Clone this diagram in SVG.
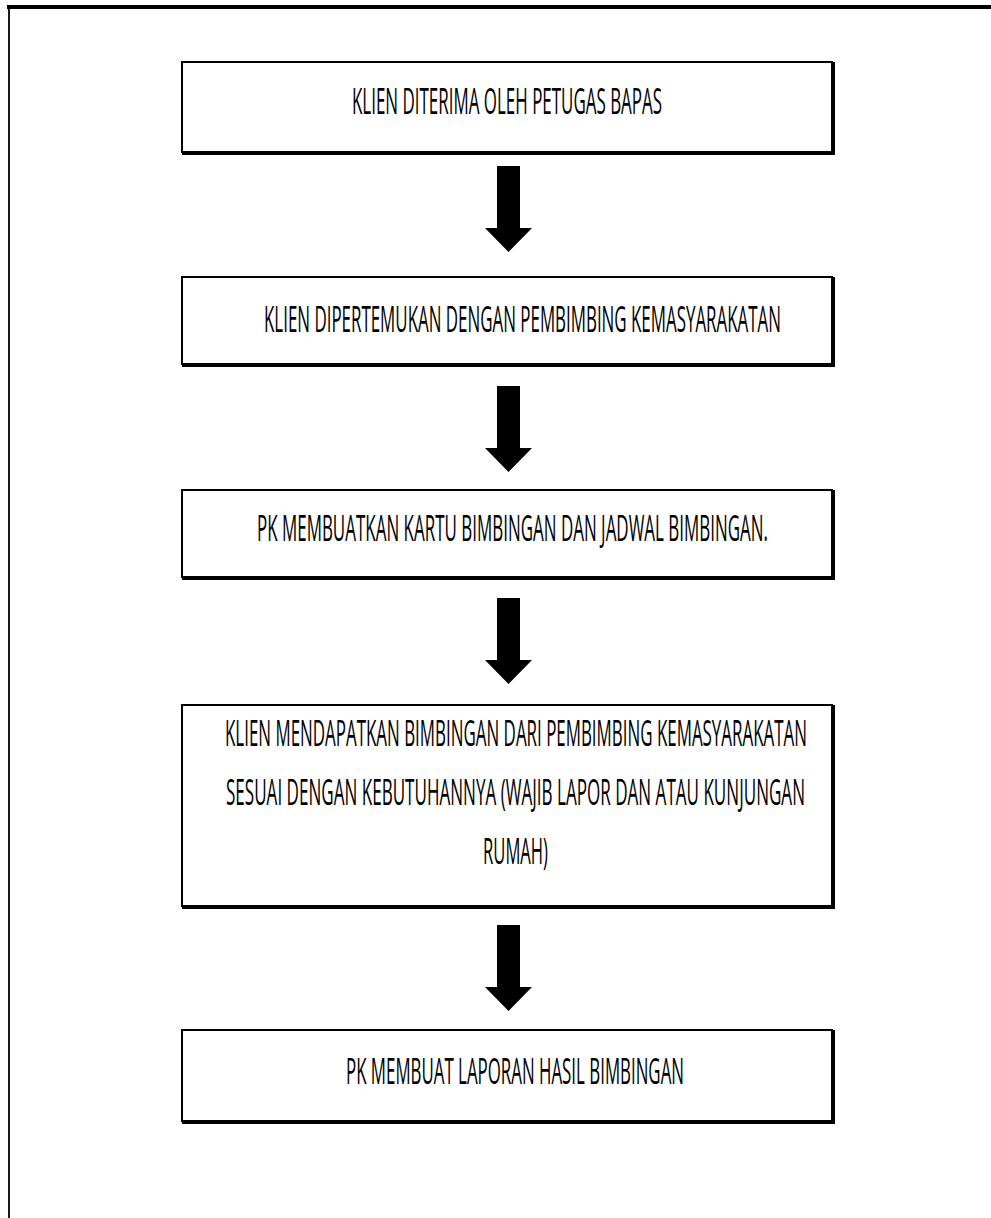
<svg xmlns="http://www.w3.org/2000/svg" xmlns:xlink="http://www.w3.org/1999/xlink" width="991" height="1218" viewBox="0 0 991 1218">
  <style>
    .box { fill: #ffffff; stroke: #000000; stroke-width: 2; }
    .shadow { fill: none; stroke: #000000; stroke-width: 2; }
    .label { font-family: "Open Sans", "Liberation Sans", sans-serif; font-size: 36px; fill: #000000; }
    .arrow { fill: #000000; }
  </style>
  <defs>
    <path id="arrowShape" d="M -11.5,0 H 11.5 V 62 H 23.5 L 0,86 L -23.5,62 H -11.5 Z"/>
  </defs>
  <rect x="0" y="0" width="991" height="1218" fill="#ffffff"/>
  <g id="frame">
    <line x1="7" y1="7" x2="991" y2="7" stroke="#000" stroke-width="4"/>
    <line x1="9" y1="5" x2="9" y2="1218" stroke="#000" stroke-width="1.8"/>
  </g>
  <g id="node1">
    <rect class="box" x="182" y="62" width="650" height="90"/>
    <polyline class="shadow" points="182,154 834,154 834,62"/>
    <text class="label" transform="translate(352,114) scale(0.5,1)" textLength="620" lengthAdjust="spacingAndGlyphs">KLIEN DITERIMA OLEH PETUGAS BAPAS</text>
  </g>
  <g id="node2">
    <rect class="box" x="182" y="277" width="650" height="87"/>
    <polyline class="shadow" points="182,366 834,366 834,277"/>
    <text class="label" transform="translate(264,332) scale(0.5,1)" textLength="1034" lengthAdjust="spacingAndGlyphs">KLIEN DIPERTEMUKAN DENGAN PEMBIMBING KEMASYARAKATAN</text>
  </g>
  <g id="node3">
    <rect class="box" x="182" y="490" width="650" height="87"/>
    <polyline class="shadow" points="182,579 834,579 834,490"/>
    <text class="label" transform="translate(257,541) scale(0.5,1)" textLength="1022" lengthAdjust="spacingAndGlyphs">PK MEMBUATKAN KARTU BIMBINGAN DAN JADWAL BIMBINGAN.</text>
  </g>
  <g id="node4">
    <rect class="box" x="182" y="705" width="650" height="201"/>
    <polyline class="shadow" points="182,908 834,908 834,705"/>
    <text class="label" transform="translate(225,746) scale(0.5,1)" textLength="1164" lengthAdjust="spacingAndGlyphs">KLIEN MENDAPATKAN BIMBINGAN DARI PEMBIMBING KEMASYARAKATAN</text>
    <text class="label" transform="translate(226,805) scale(0.5,1)" textLength="1158" lengthAdjust="spacingAndGlyphs">SESUAI DENGAN KEBUTUHANNYA (WAJIB LAPOR DAN ATAU KUNJUNGAN</text>
    <text class="label" transform="translate(483,864) scale(0.5,1)" textLength="130" lengthAdjust="spacingAndGlyphs">RUMAH)</text>
  </g>
  <g id="node5">
    <rect class="box" x="182" y="1030" width="650" height="91"/>
    <polyline class="shadow" points="182,1123 834,1123 834,1030"/>
    <text class="label" transform="translate(346,1084) scale(0.5,1)" textLength="676" lengthAdjust="spacingAndGlyphs">PK MEMBUAT LAPORAN HASIL BIMBINGAN</text>
  </g>
  <g id="connectors">
    <use class="arrow" xlink:href="#arrowShape" transform="translate(508.5,166)"/>
    <use class="arrow" xlink:href="#arrowShape" transform="translate(508.5,386)"/>
    <use class="arrow" xlink:href="#arrowShape" transform="translate(508.5,598)"/>
    <use class="arrow" xlink:href="#arrowShape" transform="translate(508.5,925)"/>
  </g>
</svg>
